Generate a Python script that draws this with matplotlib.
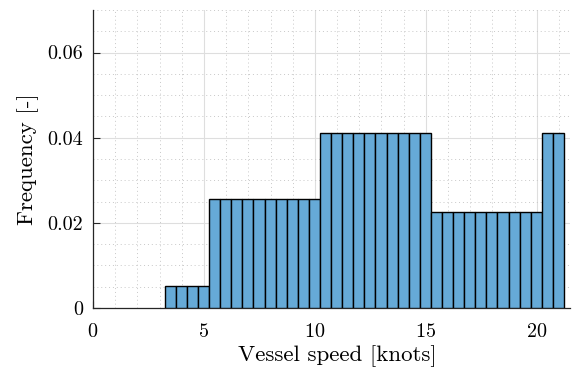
import matplotlib
matplotlib.use('Agg')
import matplotlib.pyplot as plt
from matplotlib.ticker import MultipleLocator, FuncFormatter
import numpy as np

plt.rcParams['font.family'] = 'serif'
plt.rcParams['font.serif'] = ['cmr10']
plt.rcParams['mathtext.fontset'] = 'cm'
plt.rcParams['axes.formatter.use_mathtext'] = True

# histogram bins (knots) and probability per bin
bin_start = 3.23
bin_width = 0.5
n_bins = 36
frequency = ([0.0051] * 4 + [0.0256] * 10 + [0.0411] * 10
             + [0.0226] * 10 + [0.0411] * 2)

edges = bin_start + bin_width * np.arange(n_bins + 1)

fig = plt.figure(figsize=(5.72, 3.73), dpi=100)
ax = fig.add_axes([0.1626, 0.1743, 0.834, 0.799])

ax.bar(edges[:-1], frequency, width=bin_width, align='edge',
       color='#66aad7', edgecolor='black', linewidth=1.0, zorder=3)

ax.set_xlim(0, 21.5)
ax.set_ylim(0, 0.07)
ax.xaxis.set_major_locator(MultipleLocator(5))
ax.xaxis.set_minor_locator(MultipleLocator(1))
ax.yaxis.set_major_locator(MultipleLocator(0.02))
ax.yaxis.set_minor_locator(MultipleLocator(0.005))
ax.yaxis.set_major_formatter(FuncFormatter(lambda v, _: '0' if abs(v) < 1e-12 else f'{v:.2f}'))

ax.grid(True, which='major', color='#dedede', linewidth=0.8, zorder=0)
ax.grid(True, which='minor', color='#c8c8c8', linestyle=(0, (1, 3)), linewidth=0.7, zorder=0)
ax.set_axisbelow(True)

for s in ['top', 'right']:
    ax.spines[s].set_visible(False)
for s in ['left', 'bottom']:
    ax.spines[s].set_color('#262626')
    ax.spines[s].set_linewidth(0.9)

ax.tick_params(which='major', direction='in', length=5, width=0.8, color='#262626', labelsize=14.5)
ax.tick_params(axis='x', which='major', pad=11)
ax.tick_params(axis='y', which='major', pad=7)
ax.tick_params(which='minor', length=0)

ax.set_xlabel('Vessel speed [knots]', fontsize=16.5, labelpad=5)
ax.set_ylabel('Frequency [-]', fontsize=16.5, labelpad=6)
ax.xaxis.set_label_coords(0.512, -0.125)

fig.savefig('out.png', dpi=100)
